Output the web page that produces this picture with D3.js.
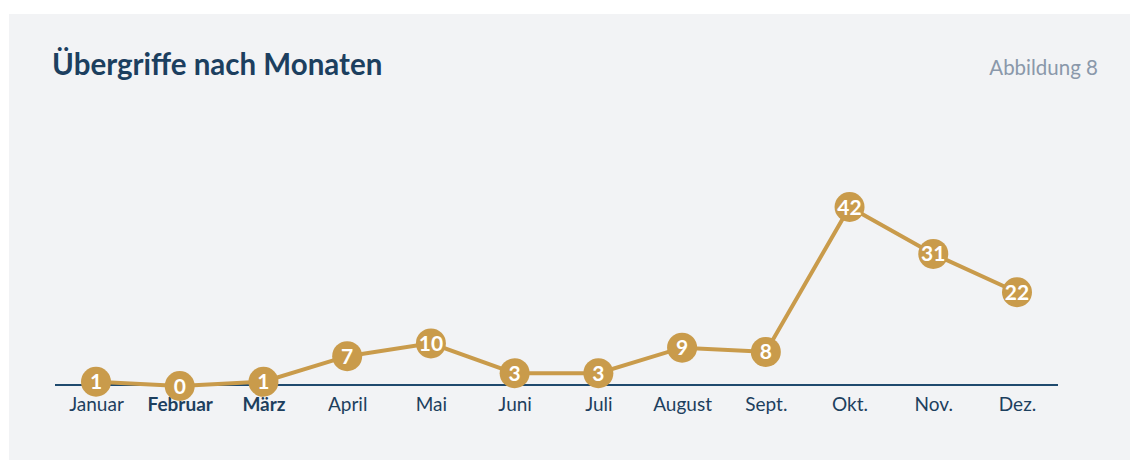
<!DOCTYPE html>
<html lang="de">
<head>
<meta charset="UTF-8">
<title>Übergriffe nach Monaten</title>
<script src="https://cdn.jsdelivr.net/npm/d3@7"></script>
<style>
    body {
        margin: 0;
        background: #ffffff;
        font-family: "Lato", "Noto Sans", sans-serif;
    }
    svg { display: block; }
    .axis path { stroke: #1f4a6e; stroke-width: 2px; }
    .axis line { display: none; }
    .axis text { font-size: 19px; fill: #1d3f5e; font-family: "Lato", sans-serif; }
</style>
</head>
<body>
<svg width="1130" height="460"></svg>
<script>
    // Daten
    var months = ["Januar", "Februar", "März", "April", "Mai", "Juni", "Juli", "August", "Sept.", "Okt.", "Nov.", "Dez."];
    var counts = [1, 0, 1, 7, 10, 3, 3, 9, 8, 42, 31, 22];
    var boldMonths = ["Februar", "März"];

    var svg = d3.select("svg");

    svg.append("rect")
        .attr("x", 9).attr("y", 14)
        .attr("width", 1121).attr("height", 446)
        .attr("fill", "#f2f3f5");

    svg.append("text")
        .text("Übergriffe nach Monaten")
        .attr("x", 52).attr("y", 75)
        .attr("font-size", 29.5)
        .attr("font-weight", 700)
        .attr("fill", "#1c3f5f");

    svg.append("text")
        .text("Abbildung 8")
        .attr("x", 1098).attr("y", 75)
        .attr("text-anchor", "end")
        .attr("font-size", 20.5)
        .attr("fill", "#8a98aa");

    var x = d3.scalePoint()
        .domain(months)
        .range([96, 1017]);

    var y = d3.scaleLinear()
        .domain([0, 42])
        .range([386, 207]);

    // Achse
    var axis = svg.append("g")
        .attr("class", "axis")
        .attr("transform", "translate(0,385)")
        .call(d3.axisBottom(x).tickSize(0).tickPadding(12).tickSizeOuter(0));
    axis.select(".domain").attr("d", "M55,0H1058");
    axis.selectAll(".tick text")
        .attr("dy", "0.72em")
        .style("font-weight", function (d) {
            return boldMonths.indexOf(d) >= 0 ? 700 : 400;
        });

    var data = months.map(function (m, i) { return {m: m, v: counts[i]}; });

    var line = d3.line()
        .x(function (d) { return x(d.m); })
        .y(function (d) { return y(d.v); });

    svg.append("path")
        .datum(data)
        .attr("d", line)
        .attr("fill", "none")
        .attr("stroke", "#c99b4b")
        .attr("stroke-width", 4);

    var pts = svg.selectAll(".pt")
        .data(data)
        .enter()
        .append("g")
        .attr("class", "pt")
        .attr("transform", function (d) {
            return "translate(" + x(d.m) + "," + y(d.v) + ")";
        });

    pts.append("circle")
        .attr("r", 15)
        .attr("fill", "#c99b4b");

    pts.append("text")
        .text(function (d) { return d.v; })
        .attr("text-anchor", "middle")
        .attr("dy", "0.36em")
        .attr("font-size", 21)
        .attr("font-weight", 700)
        .attr("fill", "#ffffff");
</script>
</body>
</html>
